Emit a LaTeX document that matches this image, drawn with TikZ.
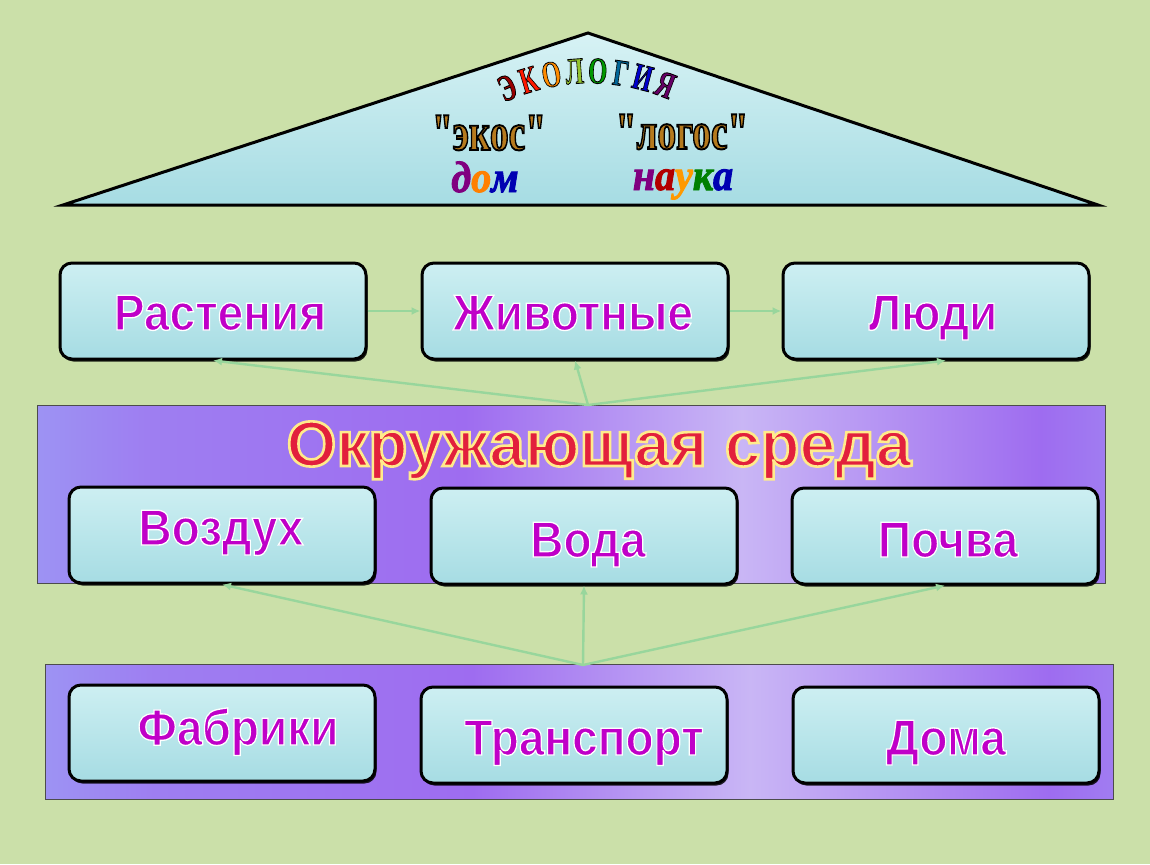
\documentclass[tikz,border=0pt]{standalone}
\usepackage{fontspec}
\setmainfont{Liberation Serif}
\setsansfont{Liberation Sans}
\newfontfamily\qf{Liberation Serif}
\usetikzlibrary{arrows.meta,calc,shadows}
\definecolor{bg}{HTML}{CBE0A9}
\definecolor{cyanA}{HTML}{CDEFF2}
\definecolor{cyanB}{HTML}{A6DCE3}
\definecolor{mag}{HTML}{C000C8}
\definecolor{arr}{HTML}{98D69C}
\definecolor{redt}{HTML}{E2203C}
\definecolor{lav}{HTML}{C9B6F5}
\definecolor{lblue}{HTML}{9CC8F7}
\definecolor{purp}{HTML}{9E6CF0}
\definecolor{gold}{HTML}{B57A1E}
\pgfdeclarehorizontalshading{bandshade}{100bp}{
 color(0bp)=(lav); color(12bp)=(lblue); color(30bp)=(purp!80!lblue);
 color(45bp)=(purp); color(58bp)=(lav); color(72bp)=(purp); color(88bp)=(lblue!70!lav); color(100bp)=(lav)}
% outlined text: fill + stroke via PDF text render mode
\newcommand{\outl}[3]{\special{pdf:code q 2 Tr #1 w #2 RG}#3\special{pdf:code Q}}
\tikzset{
 box/.style={draw=black, line width=3pt, rounded corners=12pt, top color=cyanA, bottom color=cyanB,
   minimum width=306pt, minimum height=96pt, inner sep=0pt,
   drop shadow={shadow xshift=1.5pt, shadow yshift=-2.5pt, fill=black, opacity=0.85}},
 boxtext/.style={font=\sffamily\bfseries\fontsize{46}{50}\selectfont, text=mag, anchor=base, inner sep=0pt},
 band/.style={draw=black!70, line width=1pt, shading=bandshade, inner sep=0pt},
 flow/.style={draw=arr, line width=2.4pt, -{Latex[length=9pt,width=8pt]}},
 roof/.style={draw=black, line width=3pt, top color=cyanA!80!white, bottom color=cyanB, line join=miter},
 arcl/.style={font=\qf\bfseries\fontsize{34}{36}\selectfont, inner sep=0pt},
 greek/.style={font=\qf\bfseries\fontsize{44}{48}\selectfont, anchor=base, inner sep=0pt},
 small/.style={font=\qf\bfseries\itshape\fontsize{40}{44}\selectfont, anchor=base, inner sep=0pt}
}
\newcommand{\bt}[1]{\scalebox{1}[1.1]{\outl{1.2}{1 1 1}{#1}}}
\begin{document}
\begin{tikzpicture}[x=1pt,y=-1pt]
\useasboundingbox (0,0) rectangle (1150,864);
\fill[bg] (0,0) rectangle (1150,864);

% roof
\draw[roof] (63,205) coordinate (rl) -- (588,33) coordinate (apex) -- (1098,205) coordinate (rr) -- cycle;
% arc title
\foreach \a/\l/\c in {-23/Э/{red!60!black}, -16.8/К/{red!80!orange}, -10.5/О/{orange!90!yellow}, -4.2/Л/{yellow!60!green!90!black}, 2.1/О/{green!60!black}, 8.4/Г/{teal!80!blue}, 14.4/И/{blue!80!black}, 20.8/Я/{violet!80!black}}
  \node[arcl, text=\c, rotate=-\a] at ({590+212*sin(\a)},{283-212*cos(\a)}) {\scalebox{0.72}[1.1]{\outl{0.8}{0 0 0}{\l}}};
\node[greek] (ekos) at (489,150) {\scalebox{0.85}[1.2]{\color{gold}\outl{1.6}{0 0 0}{"экос"}}};
\node[greek] (logos) at (682,149) {\scalebox{0.85}[1.2]{\color{gold}\outl{1.6}{0 0 0}{"логос"}}};
\node[small] (dom) at (485,192) {\scalebox{1}[1.1]{\outl{0.9}{0 0 0}{\textcolor{violet}{д}\textcolor{orange}{о}\textcolor{blue!70!black}{м}}}};
\node[small] (nauka) at (683,190) {\scalebox{1}[1.1]{\outl{0.9}{0 0 0}{\textcolor{violet}{н}\textcolor{red!70!black}{а}\textcolor{orange!80!yellow}{у}\textcolor{green!50!black}{к}\textcolor{blue!70!black}{а}}}};

% band 1
\node[band, minimum width=1068pt, minimum height=178pt] (env) at (571,494) {};
\coordinate (hub1) at (588,405);
\node[font=\sffamily\bfseries\fontsize{64}{68}\selectfont, text=redt, anchor=base, inner sep=0pt] (envt) at (599,466)
  {\outl{2.6}{1 0.92 0.55}{Окружающая среда}};

% band 2
\node[band, minimum width=1068pt, minimum height=135pt] (src) at (579,732) {};
\coordinate (hub2) at (583,665);

% row 1
\node[box] (rast) at (213,311) {};
\node[boxtext] at (220,330) {\bt{Растения}};
\node[box] (zhiv) at (575,311) {};
\node[boxtext] at (573,330) {\bt{Животные}};
\node[box] (lyudi) at (936,311) {};
\node[boxtext] at (933,330) {\bt{Люди}};

% row 2
\node[box] (vozd) at (222,535) {};
\node[boxtext] at (221,545) {\bt{Воздух}};
\node[box] (voda) at (584,536) {};
\node[boxtext] at (588,557) {\bt{Вода}};
\node[box] (pochva) at (945,536) {};
\node[boxtext] at (948,557) {\bt{Почва}};

% row 3
\node[box] (fabr) at (222,733) {};
\node[boxtext] at (238,745) {\bt{Фабрики}};
\node[box] (trans) at (574,735) {};
\node[boxtext] at (584,755) {\bt{Транспорт}};
\node[box] (doma) at (946,735) {};
\node[boxtext] at (946,755) {\bt{Дома}};

% connectors
\draw[flow] (rast) -- (zhiv);
\draw[flow] (zhiv) -- (lyudi);
\draw[flow] (hub1) -- (rast.south);
\draw[flow] (hub1) -- (zhiv.south);
\draw[flow] (hub1) -- ([xshift=10pt]lyudi.south);
\draw[flow] (hub2) -- (vozd.south);
\draw[flow] (hub2) -- (voda.south);
\draw[flow] (hub2) -- (pochva.south);
\end{tikzpicture}
\end{document}
